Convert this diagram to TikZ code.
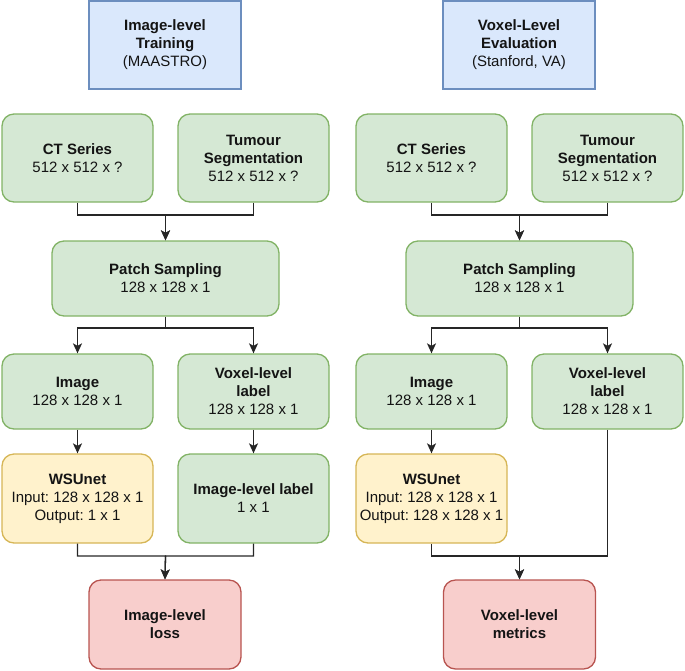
\documentclass[tikz,border=0pt]{standalone}
\usepackage{fontspec}
\setmainfont{Liberation Sans}
\usetikzlibrary{arrows.meta}
\frenchspacing
\definecolor{bfill}{HTML}{DAE8FC}\definecolor{bdraw}{HTML}{6C8EBF}
\definecolor{gfill}{HTML}{D5E8D4}\definecolor{gdraw}{HTML}{82B366}
\definecolor{yfill}{HTML}{FFF2CC}\definecolor{ydraw}{HTML}{D6B656}
\definecolor{rfill}{HTML}{F8CECC}\definecolor{rdraw}{HTML}{B85450}
\definecolor{txt}{HTML}{141414}
\tikzset{
  box/.style={rectangle, line width=1.3pt, align=center, text=txt, inner sep=2pt,
    font=\fontsize{15}{18}\selectfont\frenchspacing},
  titlebox/.style={box, fill=bfill, draw=bdraw, minimum width=152pt, minimum height=88pt},
  gbox/.style={box, fill=gfill, draw=gdraw, rounded corners=12pt},
  ybox/.style={box, fill=yfill, draw=ydraw, rounded corners=12pt},
  rbox/.style={box, fill=rfill, draw=rdraw, rounded corners=12pt},
  sz/.style 2 args={minimum width=#1pt, minimum height=#2pt},
  conn/.style={line width=1.3pt, draw=black!85},
  arr/.style={conn, -{Stealth[length=10pt,width=9pt,inset=2.5pt]}},
}
\begin{document}
\begin{tikzpicture}[x=1pt,y=-1pt]
\useasboundingbox (0,0) rectangle (685,670);
% ---- left column
\node[titlebox] (titleL) at (165,45) {\textbf{Image-level}\\\textbf{Training}\\(MAASTRO)};
\node[gbox, sz={151}{88}] (ctL) at (77.5,158) {\textbf{CT Series}\\512 x 512 x ?};
\node[gbox, sz={151}{88}] (tsL) at (253.5,158) {\textbf{Tumour}\\\textbf{Segmentation}\\512 x 512 x ?};
\node[gbox, sz={227}{75}] (psL) at (165.5,278.5) {\textbf{Patch Sampling}\\128 x 128 x 1};
\node[gbox, sz={151}{75}] (imL) at (77.5,391.5) {\textbf{Image}\\128 x 128 x 1};
\node[gbox, sz={151}{75}] (vlL) at (253.5,391.5) {\textbf{Voxel-level}\\\textbf{label}\\128 x 128 x 1};
\node[ybox, sz={151}{89}] (wsL) at (77.5,498.5) {\textbf{WSUnet}\\Input: 128 x 128 x 1\\Output: 1 x 1};
\node[gbox, sz={151}{89}] (ilL) at (253.5,498.5) {\textbf{Image-level label}\\1 x 1};
\node[rbox, sz={152}{89}] (lossL) at (165,624.5) {\textbf{Image-level}\\\textbf{loss}};
\coordinate (j1L) at (165.5,215);
\coordinate (j2L) at (165.5,328);
\coordinate (j3L) at (165.5,556);
\draw[arr] (ctL.south) |- (j1L) -- (psL.north);
\draw[arr] (tsL.south) |- (j1L) -- (psL.north);
\draw[conn] (psL.south) -- (j2L);
\draw[arr] (j2L) -| (imL.north);
\draw[arr] (j2L) -| (vlL.north);
\draw[arr] (imL) -- (wsL);
\draw[arr] (vlL) -- (ilL);
\draw[arr] (wsL.south) |- (j3L) -- (lossL.north);
\draw[arr] (ilL.south) |- (j3L) -- (lossL.north);
% ---- right column
\node[titlebox] (titleR) at (519,45) {\textbf{Voxel-Level}\\\textbf{Evaluation}\\(Stanford, VA)};
\node[gbox, sz={151}{88}] (ctR) at (431.5,158) {\textbf{CT Series}\\512 x 512 x ?};
\node[gbox, sz={151}{88}] (tsR) at (607.5,158) {\textbf{Tumour}\\\textbf{Segmentation}\\512 x 512 x ?};
\node[gbox, sz={227}{75}] (psR) at (519.5,278.5) {\textbf{Patch Sampling}\\128 x 128 x 1};
\node[gbox, sz={151}{75}] (imR) at (431.5,391.5) {\textbf{Image}\\128 x 128 x 1};
\node[gbox, sz={151}{75}] (vlR) at (607.5,391.5) {\textbf{Voxel-level}\\\textbf{label}\\128 x 128 x 1};
\node[ybox, sz={151}{89}] (wsR) at (431.5,498.5) {\textbf{WSUnet}\\Input: 128 x 128 x 1\\Output: 128 x 128 x 1};
\node[rbox, sz={152}{89}] (lossR) at (519.5,624.5) {\textbf{Voxel-level}\\\textbf{metrics}};
\coordinate (j1R) at (519.5,215);
\coordinate (j2R) at (519.5,328);
\coordinate (j3R) at (519.5,556);
\draw[arr] (ctR.south) |- (j1R) -- (psR.north);
\draw[arr] (tsR.south) |- (j1R) -- (psR.north);
\draw[conn] (psR.south) -- (j2R);
\draw[arr] (j2R) -| (imR.north);
\draw[arr] (j2R) -| (vlR.north);
\draw[arr] (imR) -- (wsR);
\draw[arr] (wsR.south) |- (j3R) -- (lossR.north);
\draw[arr] (vlR.south) |- (j3R) -- (lossR.north);
\end{tikzpicture}
\end{document}
